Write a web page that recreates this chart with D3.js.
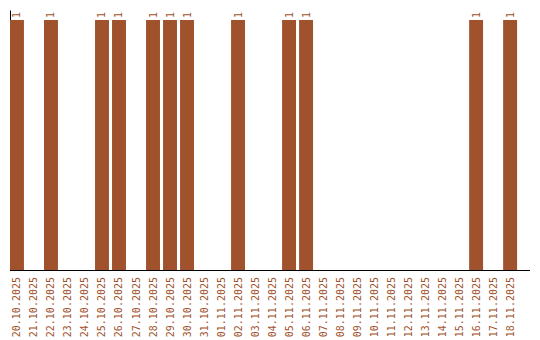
<!DOCTYPE html>
<html>
<head>
<meta charset="utf-8">
<script src="https://cdnjs.cloudflare.com/ajax/libs/d3/7.8.5/d3.min.js"></script>
<style>
    body { margin: 0; background: #fff; }
    text { font-family: "DejaVu Sans Mono", monospace; font-size: 10px; fill: #a0522d; }
</style>
</head>
<body>
<script>
var dates = ['20.10.2025', '21.10.2025', '22.10.2025', '23.10.2025', '24.10.2025',
    '25.10.2025', '26.10.2025', '27.10.2025', '28.10.2025', '29.10.2025',
    '30.10.2025', '31.10.2025', '01.11.2025', '02.11.2025', '03.11.2025',
    '04.11.2025', '05.11.2025', '06.11.2025', '07.11.2025', '08.11.2025',
    '09.11.2025', '10.11.2025', '11.11.2025', '12.11.2025', '13.11.2025',
    '14.11.2025', '15.11.2025', '16.11.2025', '17.11.2025', '18.11.2025'];
var counts = [1, 0, 1, 0, 0, 1, 1, 0, 1, 1, 1, 0, 0, 1, 0, 0, 1, 1, 0, 0, 0, 0, 0, 0, 0, 0, 0, 1, 0, 1];

var width = 540,
    height = 340,
    marginLeft = 10,
    marginRight = 530,
    marginTop = 10,
    base = 270;

var color = '#a0522d';

var data = dates.map((d, i) => ({date: d, value: counts[i]}));

var svg = d3.select('body')
    .append('svg')
    .attr('width', width)
    .attr('height', height);

var x = d3.scaleBand()
    .domain(dates)
    .range([marginLeft, marginRight])
    .paddingInner(0.18)
    .paddingOuter(0.38)
    .align(0);

var y = d3.scaleLinear()
    .domain([0, 1.04])
    .range([base, marginTop]);

// y axis is just a line, the first bar sits on top of it
svg.append('g')
    .attr('transform', 'translate(' + marginLeft + ',0)')
    .call(d3.axisLeft(y).ticks(0).tickSize(0).tickSizeOuter(0))
    .call(g => g.select('.domain').attr('stroke', '#000'));

var shown = data.filter(d => d.value > 0);

svg.append('g')
    .selectAll('rect')
    .data(shown).enter()
    .append('rect')
    .attr('x', d => x(d.date))
    .attr('y', d => y(d.value))
    .attr('width', x.bandwidth())
    .attr('height', d => base - y(d.value))
    .attr('fill', color);

// value labels, rotated
svg.append('g')
    .selectAll('text')
    .data(shown).enter()
    .append('text')
    .attr('transform', d => 'translate(' + (x(d.date) + x.bandwidth() / 2) + ',' + (y(d.value) - 2) + ') rotate(-90)')
    .attr('dy', '0.35em')
    .text(d => d.value);

var xAxis = svg.append('g')
    .attr('transform', 'translate(0,' + base + ')')
    .call(d3.axisBottom(x).tickSize(0).tickPadding(0));

xAxis.select('.domain')
    .attr('d', 'M' + marginLeft + ',0.5H' + marginRight)
    .attr('stroke', '#000');

xAxis.selectAll('text')
    .attr('y', 0)
    .attr('dy', '0.35em')
    .attr('x', -7)
    .attr('transform', 'rotate(-90)')
    .style('text-anchor', 'end')
    .style('font-family', '"DejaVu Sans Mono", monospace')
    .style('font-size', '10px')
    .attr('fill', color);
</script>
</body>
</html>
